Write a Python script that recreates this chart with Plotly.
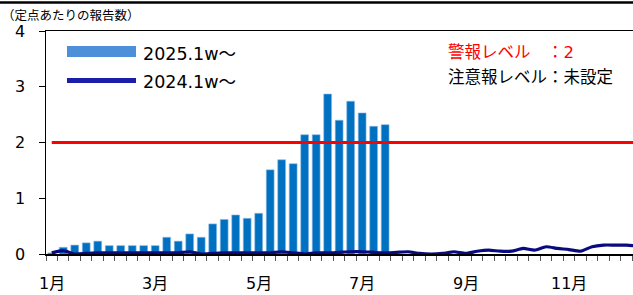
import plotly.graph_objects as go

# ---- data ----
weeks = list(range(52))
bars_2025 = [0.02, 0.12, 0.16, 0.20, 0.23, 0.15, 0.15, 0.15, 0.15, 0.15,
             0.30, 0.23, 0.36, 0.30, 0.54, 0.62, 0.70, 0.64, 0.73, 1.51,
             1.69, 1.62, 2.14, 2.14, 2.87, 2.40, 2.74, 2.53, 2.29, 2.32]
line_2024 = [0.02, 0.06, 0.00, 0.01, 0.02, 0.02, 0.02, 0.02, 0.02, 0.02,
             0.02, 0.02, 0.04, 0.00, 0.01, 0.02, 0.02, 0.02, 0.02, 0.02,
             0.04, 0.02, 0.00, 0.02, 0.02, 0.03, 0.04, 0.04, 0.03, 0.02,
             0.03, 0.04, 0.01, 0.00, 0.01, 0.04, 0.01, 0.05, 0.07, 0.05,
             0.05, 0.10, 0.07, 0.13, 0.10, 0.08, 0.05, 0.13, 0.16, 0.16,
             0.16, 0.14]
alarm_level = 2
month_labels = ["1月", "3月", "5月", "7月", "9月", "11月"]
month_weeks = [0, 9, 18, 27, 36, 45]
y_ticks = [0, 1, 2, 3, 4]

FONT = "DejaVu Sans, Noto Sans CJK JP"
W, H = 633, 295
L, R, T, B = 46, 0, 31, 41
PW, PH = W - L - R, H - T - B


def px_x(x):
    return (x - L) / PW


def px_y(y):
    return (H - B - y) / PH


fig = go.Figure()
fig.add_trace(go.Bar(x=weeks[:len(bars_2025)], y=bars_2025, width=0.68,
                     marker=dict(color="#0070C0", line=dict(color="#8DB8E6", width=0.6)),
                     name="2025.1w〜"))
fig.add_trace(go.Scatter(x=weeks, y=line_2024, mode="lines",
                         line=dict(color="#0A0A80", width=3.2, shape="spline", smoothing=0.6),
                         cliponaxis=False, name="2024.1w〜"))
fig.add_trace(go.Scatter(x=weeks, y=[alarm_level] * len(weeks), mode="lines",
                         line=dict(color="#FF0000", width=3), name="警報レベル"))

shapes = [
    # top frame line
    dict(type="line", xref="paper", yref="paper", x0=px_x(0), x1=1,
         y0=px_y(2.5), y1=px_y(2.5), line=dict(color="black", width=2.5)),
    # legend patches
    dict(type="rect", xref="paper", yref="paper", x0=px_x(67), x1=px_x(136),
         y0=px_y(57), y1=px_y(46), fillcolor="#4E8FDA", line=dict(width=0)),
    dict(type="rect", xref="paper", yref="paper", x0=px_x(67), x1=px_x(136),
         y0=px_y(83), y1=px_y(78), fillcolor="#1A1EA8", line=dict(width=0)),
]

annotations = [
    dict(text="2025.1w〜", x=px_x(141), y=px_y(54), xref="paper", yref="paper",
         xanchor="left", yanchor="middle", showarrow=False,
         font=dict(family=FONT, size=17.5, color="black")),
    dict(text="2024.1w〜", x=px_x(141), y=px_y(82), xref="paper", yref="paper",
         xanchor="left", yanchor="middle", showarrow=False,
         font=dict(family=FONT, size=17.5, color="black")),
    dict(text="警報レベル　：2", x=px_x(446), y=px_y(52), xref="paper", yref="paper",
         xanchor="left", yanchor="middle", showarrow=False,
         font=dict(family=FONT, size=16.5, color="#FF0000")),
    dict(text="注意報レベル：未設定", x=px_x(446), y=px_y(77), xref="paper", yref="paper",
         xanchor="left", yanchor="middle", showarrow=False,
         font=dict(family=FONT, size=16.5, color="black")),
    dict(text="（定点あたりの報告数）", x=px_x(0), y=px_y(15), xref="paper", yref="paper",
         xanchor="left", yanchor="middle", showarrow=False,
         font=dict(family=FONT, size=12.5, color="black")),
]
for lab, wk in zip(month_labels, month_weeks):
    annotations.append(dict(text=lab, x=wk, y=px_y(283), xref="x", yref="paper",
                            xanchor="center", yanchor="middle", showarrow=False,
                            font=dict(family=FONT, size=16, color="black")))

fig.update_layout(
    width=W, height=H, margin=dict(l=L, r=R, t=T, b=B, pad=0),
    paper_bgcolor="white", plot_bgcolor="white", showlegend=False,
    bargap=0, shapes=shapes, annotations=annotations,
    font=dict(family=FONT, color="black"),
    xaxis=dict(range=[-0.5, 50.56], tickmode="array",
               tickvals=[w - 0.5 for w in weeks] + [51.5], ticktext=[""] * 53,
               ticks="outside", ticklen=5, tickcolor="#555", tickwidth=1,
               showline=True, linecolor="black", linewidth=1.5, mirror=True,
               showgrid=False, zeroline=False, fixedrange=True),
    yaxis=dict(range=[0, 4], tickmode="array", tickvals=y_ticks,
               ticks="outside", ticklen=6, tickcolor="black", tickwidth=1,
               ticklabelstandoff=10,
               tickfont=dict(family=FONT, size=16, color="black"),
               showline=True, linecolor="black", linewidth=1.5,
               showgrid=False, zeroline=False, fixedrange=True),
)

fig.write_html("out.html", config={"displayModeBar": False, "staticPlot": True},
               post_script="document.body.style.margin='0';document.body.style.padding='0';"
                           "document.documentElement.style.overflow='hidden';")
